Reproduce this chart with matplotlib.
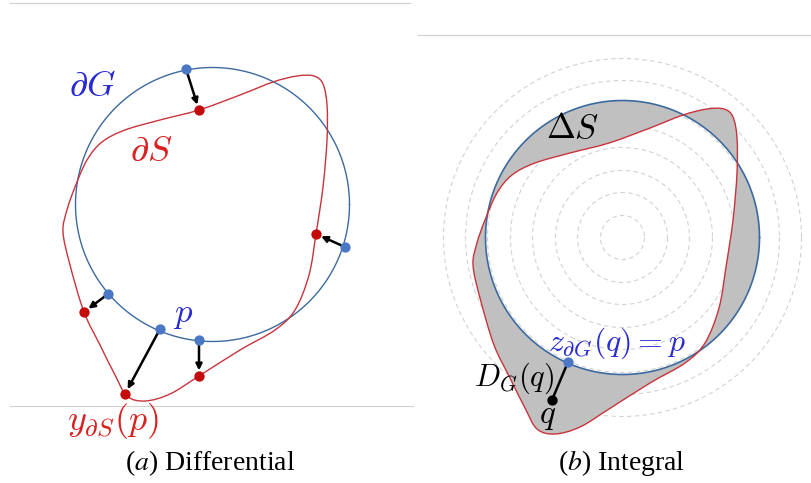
import numpy as np
import matplotlib
matplotlib.use("Agg")
import matplotlib.pyplot as plt
from matplotlib.path import Path
from matplotlib.patches import PathPatch

plt.rcParams['mathtext.fontset'] = 'cm'

# Left panel geometry (pixel units of the 811x483 picture)
circle_center = (212.5, 204.5)
circle_radius = 137
# Red boundary dS, points along the curve
red_curve = [(199, 110), (240, 95), (273, 82), (297, 76), (314, 76), (323, 84),
             (327, 105), (327, 140), (323, 187), (316, 234), (309, 275), (295, 310),
             (275, 330), (240, 350), (199, 376), (170, 394), (145, 401), (127, 396),
             (115, 375), (100, 345), (84, 312), (70, 265), (63, 232), (67, 210),
             (75, 187), (87, 160), (102, 142), (125, 130), (160, 120)]
# arrows from the ground truth (blue) to the prediction (red)
blue_pts = [(186, 69), (345, 247), (108, 294), (160, 329), (199, 340)]
red_pts = [(199, 110), (316, 234), (84, 312), (125, 394), (199, 376)]

# Right panel = same shapes, shifted
right_offset = (410, 33)
ring_radii = [22, 45, 67, 90, 112, 135, 157, 179]
p_point = (568, 362)
q_point = (552, 400)

blue_line = '#3d6a9e'
red_line = '#c8343c'
blue_dot = '#4a78c4'
red_dot = '#c40a0a'
blue_text = '#2a2ad2'
red_text = '#d82222'


def smooth_closed(pts):
    pts = np.asarray(pts, float)
    n = len(pts)
    verts = [pts[0]]
    codes = [Path.MOVETO]
    for i in range(n):
        p0, p1, p2, p3 = pts[i - 1], pts[i], pts[(i + 1) % n], pts[(i + 2) % n]
        verts += [p1 + (p2 - p0) / 6, p2 - (p3 - p1) / 6, p2]
        codes += [Path.CURVE4] * 3
    return np.array(verts), codes


def circle_pts(center, r, sign=1):
    t = np.linspace(0, 2 * np.pi, 361) * sign
    return np.column_stack([center[0] + r * np.cos(t), center[1] + r * np.sin(t)])


def signed_area(pts):
    pts = np.asarray(pts, float)
    x, y = pts[:, 0], pts[:, 1]
    return 0.5 * np.sum(x * np.roll(y, -1) - np.roll(x, -1) * y)


fig = plt.figure(figsize=(8.11, 4.83), dpi=100)
ax = fig.add_axes([0, 0, 1, 1])
ax.set_xlim(0, 811)
ax.set_ylim(483, 0)
ax.axis('off')

# thin page rules
ax.plot([10, 410], [3, 3], color='#cfcfcf', lw=0.8)
ax.plot([418, 811], [35, 35], color='#cfcfcf', lw=0.8)
ax.plot([10, 413], [406, 406], color='#cfcfcf', lw=0.8)

# ---- (a) Differential
verts, codes = smooth_closed(red_curve)
circ = circle_pts(circle_center, circle_radius)
ax.plot(circ[:, 0], circ[:, 1], color=blue_line, lw=1.0, zorder=3)
ax.add_patch(PathPatch(Path(verts, codes), facecolor='none', edgecolor=red_line, lw=1.0, zorder=3))

for b, r in zip(blue_pts, red_pts):
    ax.annotate('', xy=r, xytext=b,
                arrowprops=dict(arrowstyle='-|>', color='black', lw=1.8,
                                mutation_scale=9, shrinkA=3, shrinkB=4), zorder=4)
bx, by = zip(*blue_pts)
rx, ry = zip(*red_pts)
ax.scatter(bx, by, s=55, color=blue_dot, zorder=5, linewidths=0)
ax.scatter(rx, ry, s=55, color=red_dot, zorder=5, linewidths=0)

ax.text(92, 86, r'$\partial G$', color=blue_text, fontsize=26, ha='center', va='center')
ax.text(151, 151, r'$\partial S$', color=red_text, fontsize=26, ha='center', va='center')
ax.text(183, 314, r'$p$', color=blue_text, fontsize=25, ha='center', va='center')
ax.text(113, 421, r'$y_{\partial S}(p)$', color=red_text, fontsize=26, ha='center', va='center')
ax.text(210, 463, r'($a$) Differential', fontsize=20, family='Liberation Serif',
        math_fontfamily='stix', ha='center', va='center')

# ---- (b) Integral
ox, oy = right_offset
c2 = (circle_center[0] + ox, circle_center[1] + oy)
for rr in ring_radii:
    ring = circle_pts(c2, rr)
    ax.plot(ring[:, 0], ring[:, 1], color='#d2d2d2', lw=0.8, ls=(0, (4, 3)), zorder=1)

red2 = [(x + ox, y + oy) for x, y in red_curve]
v2, codes2 = smooth_closed(red2)
sign = -1 if signed_area(red2) > 0 else 1
circ2 = circle_pts(c2, circle_radius, sign)
all_verts = np.vstack([v2, circ2])
all_codes = list(codes2) + [Path.MOVETO] + [Path.LINETO] * (len(circ2) - 1)
ax.add_patch(PathPatch(Path(all_verts, all_codes), facecolor='#c0c0c0',
                       edgecolor='none', zorder=2))
circ2_line = circle_pts(c2, circle_radius)
ax.plot(circ2_line[:, 0], circ2_line[:, 1], color=blue_line, lw=1.2, zorder=3)
ax.add_patch(PathPatch(Path(v2, codes2), facecolor='none', edgecolor=red_line, lw=1.0, zorder=3))

ax.plot([p_point[0], q_point[0]], [p_point[1], q_point[1]], color='black', lw=1.8, zorder=4)
ax.scatter([p_point[0]], [p_point[1]], s=55, color=blue_dot, zorder=5, linewidths=0)
ax.scatter([q_point[0]], [q_point[1]], s=55, color='black', zorder=5, linewidths=0)

ax.text(573, 128, r'$\Delta S$', color='black', fontsize=25, ha='center', va='center')
ax.text(617, 343, r'$z_{\partial G}(q) = p$', color=blue_text, fontsize=23, ha='center', va='center')
ax.text(514, 378, r'$D_G(q)$', color='black', fontsize=22, ha='center', va='center')
ax.text(548, 415, r'$q$', color='black', fontsize=24, ha='center', va='center')
ax.text(622, 463, r'($b$) Integral', fontsize=20, family='Liberation Serif',
        math_fontfamily='stix', ha='center', va='center')

plt.savefig('out.png', dpi=100)
